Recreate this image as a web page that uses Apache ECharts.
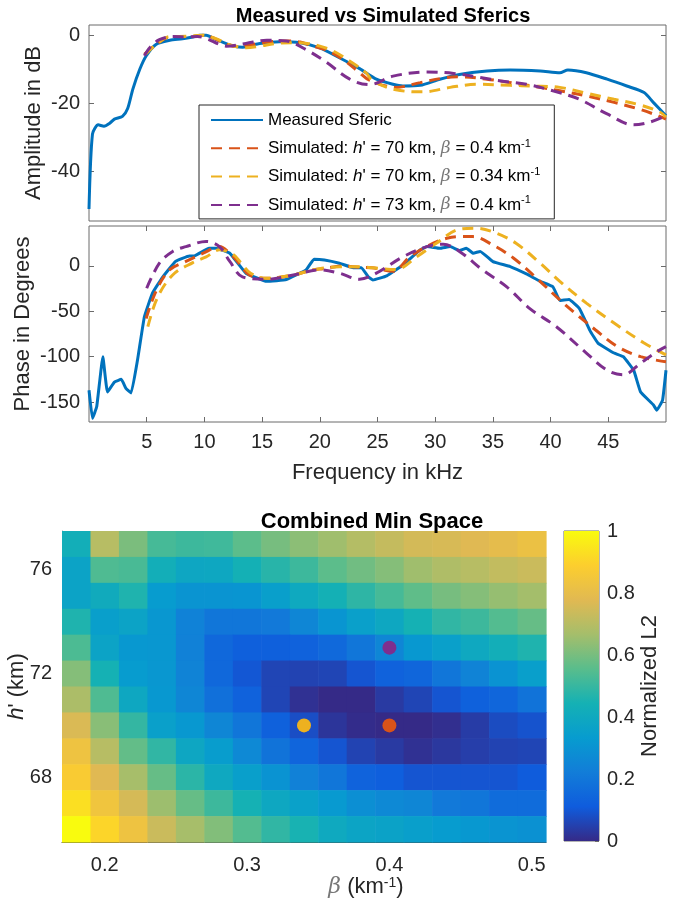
<!DOCTYPE html>
<html><head><meta charset="utf-8">
<script src="https://cdn.jsdelivr.net/npm/echarts@6/dist/echarts.min.js"></script>
<style>html,body{margin:0;padding:0;background:#fff}#c{width:683px;height:909px}</style>
</head><body><div id="c"></div><script>
// ---------------- data ----------------
const ampTicks = [0, -20, -40];
const phaseTicks = [0, -50, -100, -150];
const freqTicks = [5, 10, 15, 20, 25, 30, 35, 40, 45];
const betaTicks = [0.2, 0.3, 0.4, 0.5];
const hTicks = [68, 72, 76];
const cbarTicks = [0, 0.2, 0.4, 0.6, 0.8, 1];

const measuredAmp = [[0,-51],[0.3,-29],[0.8,-26.3],[1.3,-26.7],[1.8,-25.8],[2.2,-24.6],[2.9,-23.8],[3.35,-21.5],[3.8,-15.8],[4.4,-10],[4.95,-6.1],[5.8,-2.7],[7.0,-1.5],[8.1,-1.05],[9.0,-0.5],[9.6,0],[10.15,0],[11.0,-1.25],[12.0,-2.6],[12.8,-3.4],[13.3,-3.5],[14.0,-3.0],[14.8,-2.4],[16.5,-1.9],[18.3,-2.2],[20.0,-3.7],[21.7,-6.6],[23.45,-9.8],[24.9,-12.9],[26.35,-14.4],[27.2,-14.9],[28.7,-14.7],[30.4,-12.9],[32.1,-11.5],[34.5,-10.5],[36.5,-10.2],[39.1,-10.5],[40.8,-11],[41.5,-10.2],[43.1,-11],[44.9,-12.9],[46.6,-14.9],[48.1,-16.8],[48.9,-19.7],[50,-23.6]];
const sim1Amp = [[4.8,-5.6],[5.8,-2.7],[7.0,-0.5],[7.8,-0.4],[9.0,-0.4],[10.0,0],[10.9,-1],[11.9,-2.7],[13.0,-3.3],[14.2,-2.7],[15.4,-2],[17.1,-1.7],[18.3,-2],[19.4,-3.2],[20.6,-4.4],[22.0,-7.1],[23.45,-11],[24.3,-13.2],[26.6,-15.3],[28.7,-13.9],[31,-12.4],[32.1,-12.2],[34.5,-12.9],[36.5,-13.9],[39.1,-15.3],[40.8,-16.3],[43.1,-17.8],[45.5,-19.7],[47.5,-21.5],[48.9,-23.1],[50,-24.6]];
const sim2Amp = [[4.9,-5.6],[5.8,-2.8],[7,-0.4],[8.5,-0.3],[9.8,0],[11,-1],[12.1,-2.7],[13.6,-3.7],[14.8,-3.2],[16.2,-2.4],[17.7,-2.2],[18.9,-2.4],[20.0,-3.2],[21.2,-4.7],[22.6,-7.6],[24,-11],[24.6,-13.4],[26.6,-16],[29,-16.6],[31.3,-15.3],[33.6,-14.4],[36.5,-14.7],[38.5,-14.9],[40.8,-15.3],[43.1,-17],[45.5,-18.8],[47.8,-20.5],[49.5,-22.6],[50,-24]];
const sim3Amp = [[4.8,-6],[5.3,-3.5],[6.1,-1.3],[7.3,-0.4],[8.5,-0.5],[9.4,-0.4],[10.2,-1],[11.3,-2.7],[11.9,-3.2],[13.6,-2.4],[15.4,-1.5],[17.1,-1.7],[18.8,-4.2],[20.6,-8],[22.6,-12.9],[24.3,-14.5],[26.35,-12],[29.3,-10.8],[31.6,-11.2],[33.9,-12.4],[35.7,-13.4],[37.9,-14.4],[40.2,-16.3],[42.5,-18.8],[44.9,-23.1],[47.2,-26.3],[48.6,-25.5],[50,-23.6]];

const measuredPhase = [[0,-137],[0.3,-168],[0.67,-155],[1.2,-100],[1.6,-139],[2.2,-128],[2.8,-125],[3.2,-135],[3.65,-140],[4.2,-104],[4.8,-56],[5.5,-30],[6.4,-12],[7.5,5],[8.7,11],[9.1,11],[10.4,19.5],[11.0,19.5],[12.2,14],[13.6,-8],[15.4,-17],[17.1,-15],[18.8,-4.4],[19.5,7.4],[20.4,6.6],[21.7,3],[22.9,-2],[23.6,-2],[24.2,-12],[24.6,-15.5],[25.8,-11],[27.2,1],[28.7,17.7],[29.3,21.3],[30.4,19.5],[31.3,21.3],[32.1,17],[32.7,19.5],[33.3,14],[33.9,16],[35.0,4.8],[36.5,-0.7],[37.9,-8.8],[39.1,-17],[40.2,-23],[40.8,-38],[41.6,-37],[42.5,-47],[43.4,-71],[44.1,-85],[45.5,-96],[46.3,-100],[47.2,-115],[47.8,-139],[48.9,-153],[49.2,-159],[49.7,-148],[50,-115]];
const sim1Phase = [[4.95,-58],[5.8,-28],[6.97,-4.4],[8.4,5],[9.9,14],[11.3,21.3],[12.2,14],[13.0,3],[13.9,-10],[15.4,-13.6],[17.7,-10],[19.4,-4.4],[20.3,-3],[22,0],[23.45,-1.5],[24.5,-2],[26.35,-6],[27.8,10],[29.8,25],[31,30.5],[32.1,32.3],[33.3,32.3],[35.0,23],[36.8,8.5],[38.8,-13.6],[40.8,-37.5],[42.5,-56],[43.9,-70.6],[45.8,-89],[47.8,-100],[50,-105.6]];
const sim2Phase = [[5.1,-67],[5.9,-35.7],[7.25,-10],[9,3.7],[10.15,10],[11.3,17.7],[12.5,12.5],[13.2,3],[14,-8],[15.4,-13.6],[17.7,-10],[19.4,-4.4],[21.7,-1],[23.45,-1],[24.6,-2],[26.6,-4],[28.4,10],[30.1,25],[32.1,40.5],[33.6,41.6],[35.3,36],[37,25],[39.1,3],[40.8,-17],[43.1,-41],[45.5,-63],[48.1,-85],[50,-98]];
const sim3Phase = [[5.0,-24.6],[6.1,3],[7.25,16],[8.4,21.3],[10.15,27],[11.3,21.3],[12.2,5],[13.3,-12],[15.4,-14.7],[17.7,-10],[20,-4.4],[21.7,-8],[23.45,-14.7],[24.9,-8],[27.2,10],[29.3,21.3],[30.7,24],[32.1,16],[34.1,-4.4],[36.2,-23],[38.2,-47],[40.5,-67],[43.1,-96],[44.9,-115],[46.3,-120],[47.8,-107],[49.2,-94.6],[50,-89]];

// Combined min space (normalized L2); rows from h' = 77 (top) down to 66
const betaValues = [0.18,0.20,0.22,0.24,0.26,0.28,0.30,0.32,0.34,0.36,0.38,0.40,0.42,0.44,0.46,0.48,0.50];
const hValues = [77,76,75,74,73,72,71,70,69,68,67,66];
const l2h77 = [0.43,0.70,0.605,0.525,0.51,0.515,0.56,0.60,0.63,0.66,0.695,0.725,0.752,0.76,0.775,0.795,0.82];
const l2h76 = [0.37,0.54,0.53,0.43,0.385,0.39,0.44,0.475,0.51,0.56,0.59,0.62,0.66,0.685,0.70,0.72,0.735];
const l2h75 = [0.37,0.41,0.46,0.335,0.305,0.305,0.31,0.35,0.40,0.44,0.485,0.525,0.565,0.60,0.62,0.645,0.665];
const l2h74 = [0.46,0.35,0.37,0.315,0.24,0.20,0.20,0.21,0.254,0.31,0.355,0.39,0.445,0.49,0.51,0.545,0.575];
const l2h73 = [0.535,0.37,0.32,0.315,0.235,0.15,0.125,0.125,0.13,0.155,0.20,0.254,0.32,0.355,0.395,0.43,0.46];
const l2h72 = [0.62,0.445,0.335,0.317,0.245,0.15,0.10,0.06,0.055,0.06,0.095,0.13,0.145,0.20,0.245,0.30,0.35];
const l2h71 = [0.68,0.54,0.39,0.32,0.254,0.18,0.13,0.06,0.015,0.0,0.0,0.035,0.06,0.095,0.127,0.145,0.19];
const l2h70 = [0.765,0.625,0.495,0.355,0.32,0.254,0.20,0.127,0.08,0.025,0.005,0.0,0.0,0.01,0.04,0.075,0.09];
const l2h69 = [0.83,0.70,0.57,0.49,0.385,0.34,0.265,0.19,0.14,0.095,0.055,0.035,0.015,0.03,0.045,0.055,0.06];
const l2h68 = [0.875,0.775,0.67,0.575,0.48,0.395,0.35,0.30,0.235,0.20,0.135,0.12,0.095,0.095,0.095,0.095,0.11];
const l2h67 = [0.93,0.84,0.755,0.655,0.575,0.51,0.445,0.39,0.36,0.325,0.285,0.265,0.254,0.21,0.20,0.165,0.165];
const l2h66 = [1.0,0.905,0.83,0.735,0.67,0.615,0.545,0.49,0.45,0.40,0.375,0.365,0.35,0.335,0.32,0.305,0.295];
const l2Rows = [l2h77,l2h76,l2h75,l2h74,l2h73,l2h72,l2h71,l2h70,l2h69,l2h68,l2h67,l2h66];

// best-fit markers [beta, h']
const fitPoints = [[0.40,73],[0.34,70],[0.40,70]];
const cbarRange = [[0,1]];

// ---------------- style ----------------
const FONT = '"Liberation Sans", Arial, Helvetica, sans-serif';
const TXT = '#262626';
const AX = '#6b6b6b';
const C_BLUE = '#0072BD', C_ORANGE = '#D95319', C_YELLOW = '#EDB120', C_PURPLE = '#7E2F8E';
const pointColors = [C_PURPLE, C_YELLOW, C_ORANGE];
const parula = ['#352a87','#0f5cdd','#127dd8','#079ccf','#15b1b4','#59bd8c','#a5be6b','#e1b952','#fcce2e','#f9fb0e'];

const heatData = [];
hValues.forEach((h, r) => betaValues.forEach((b, c) => heatData.push([b, h, l2Rows[r][c]])));

const legendLabels = {
  'Measured Sferic': 'Measured Sferic',
  'sim1': "Simulated: {i|h}' = 70 km, {b|β} = 0.4 km{s|-1}",
  'sim2': "Simulated: {i|h}' = 70 km, {b|β} = 0.34 km{s|-1}",
  'sim3': "Simulated: {i|h}' = 73 km, {b|β} = 0.4 km{s|-1}"
};

const tickLbl = {fontSize: 20, color: TXT, fontFamily: FONT};
const nameSt = {fontSize: 22, color: TXT, fontFamily: FONT};
const dash = [11, 7];
const noLine = {show: false, onZero: false};

function lineSeries(name, data, color, xi, yi, dashed, smooth) {
  return {
    type: 'line', name, data, xAxisIndex: xi, yAxisIndex: yi, symbol: 'none', showSymbol: false,
    smooth: smooth, animation: false,
    lineStyle: {color, width: 3, type: dashed ? dash : 'solid'},
    itemStyle: {color}
  };
}
const gridBase = {outerBoundsMode: 'none', containLabel: false};

const chart = echarts.init(document.getElementById('c'), null, {renderer: 'canvas'});
const option = {
  backgroundColor: '#fff',
  animation: false,
  title: [
    {text: 'Measured vs Simulated Sferics', left: 378, top: 1, textAlign: 'center',
     textStyle: {fontSize: 20, fontWeight: 'bold', color: '#000', fontFamily: FONT}},
    {text: 'Combined Min Space', left: 367, top: 506, textAlign: 'center',
     textStyle: {fontSize: 22, fontWeight: 'bold', color: '#000', fontFamily: FONT}}
  ],
  grid: [
    {...gridBase, left: 89, top: 25, width: 577, height: 196, show: true, borderColor: AX, borderWidth: 1, backgroundColor: 'transparent'},
    {...gridBase, left: 89, top: 226, width: 577, height: 196, show: true, borderColor: AX, borderWidth: 1, backgroundColor: 'transparent'},
    {...gridBase, left: 62, top: 531, width: 484, height: 311},
    {...gridBase, left: 564, top: 531, width: 35, height: 310, show: true, borderColor: AX, borderWidth: 1, backgroundColor: 'transparent'}
  ],
  legend: {
    show: true, selectedMode: false, orient: 'vertical', left: 199, top: 105,
    padding: [5, 14, 4, 11], itemGap: 8.3, itemWidth: 52, itemHeight: 14,
    backgroundColor: '#fff', borderColor: '#262626', borderWidth: 1,
    itemStyle: {opacity: 0},
    data: ['Measured Sferic', 'sim1', 'sim2', 'sim3'],
    formatter: n => legendLabels[n],
    textStyle: {fontSize: 17, color: '#000', fontFamily: FONT, lineHeight: 20,
      rich: {
        i: {fontSize: 17, fontStyle: 'italic', fontFamily: FONT, color: '#000', lineHeight: 20},
        b: {fontSize: 17, fontStyle: 'italic', fontFamily: '"DejaVu Serif", serif', color: '#777', lineHeight: 20},
        s: {fontSize: 11, fontFamily: FONT, color: '#000', verticalAlign: 'top', lineHeight: 12}
      }}
  },
  visualMap: {
    show: false, type: 'continuous', min: 0, max: 1, dimension: 2, seriesIndex: [8],
    inRange: {color: parula}
  },
  xAxis: [
    {gridIndex: 0, type: 'value', min: 0, max: 50, axisLine: noLine, axisTick: {show: false}, axisLabel: {show: false}, splitLine: {show: false}},
    {gridIndex: 1, type: 'value', min: 0, max: 50, position: 'bottom',
     axisLine: noLine, splitLine: {show: false},
     axisTick: {show: true, inside: true, length: 5, lineStyle: {color: AX}, customValues: freqTicks},
     axisLabel: {show: true, margin: 10, ...tickLbl, customValues: freqTicks},
     name: 'Frequency in kHz', nameLocation: 'middle', nameGap: 40, nameMoveOverlap: false, nameTextStyle: nameSt},
    {gridIndex: 1, type: 'value', min: 0, max: 50, position: 'top',
     axisLine: noLine, splitLine: {show: false}, axisLabel: {show: false},
     axisTick: {show: true, inside: true, length: 5, lineStyle: {color: AX}, customValues: freqTicks}},
    {gridIndex: 2, type: 'value', min: 0.17, max: 0.51, position: 'bottom',
     axisLine: {show: true, onZero: false, lineStyle: {color: '#444', width: 1}}, splitLine: {show: false}, axisTick: {show: false},
     axisLabel: {show: true, margin: 13, ...tickLbl, customValues: betaTicks, formatter: v => v.toFixed(1)},
     name: '{b|β} (km{s|-1})', nameLocation: 'middle', nameGap: 34, nameMoveOverlap: false,
     nameTextStyle: {...nameSt, padding: [0, 0, 0, 124], rich: {
       b: {fontSize: 22, fontStyle: 'italic', fontFamily: '"DejaVu Serif", serif', color: '#777'},
       s: {fontSize: 14, color: TXT, fontFamily: FONT, verticalAlign: 'top', lineHeight: 14}}}},
    {gridIndex: 3, type: 'value', min: 0, max: 1, show: false}
  ],
  yAxis: [
    {gridIndex: 0, type: 'value', min: -54.5, max: 3, axisLine: noLine, splitLine: {show: false},
     axisTick: {show: true, inside: true, length: 5, lineStyle: {color: AX}, customValues: ampTicks},
     axisLabel: {show: true, margin: 9, ...tickLbl, customValues: ampTicks},
     name: 'Amplitude in dB', nameLocation: 'middle', nameGap: 44, nameMoveOverlap: false, nameTextStyle: nameSt},
    {gridIndex: 0, type: 'value', min: -54.5, max: 3, position: 'right', axisLine: noLine, splitLine: {show: false},
     axisLabel: {show: false}, axisTick: {show: true, inside: true, length: 5, lineStyle: {color: AX}, customValues: ampTicks}},
    {gridIndex: 1, type: 'value', min: -172, max: 44, axisLine: noLine, splitLine: {show: false},
     axisTick: {show: true, inside: true, length: 5, lineStyle: {color: AX}, customValues: phaseTicks},
     axisLabel: {show: true, margin: 9, ...tickLbl, customValues: phaseTicks},
     name: 'Phase in Degrees', nameLocation: 'middle', nameGap: 55, nameMoveOverlap: false, nameTextStyle: nameSt},
    {gridIndex: 1, type: 'value', min: -172, max: 44, position: 'right', axisLine: noLine, splitLine: {show: false},
     axisLabel: {show: false}, axisTick: {show: true, inside: true, length: 5, lineStyle: {color: AX}, customValues: phaseTicks}},
    {gridIndex: 2, type: 'value', min: 65.5, max: 77.5, axisLine: {show: true, onZero: false, lineStyle: {color: '#999', width: 1}}, splitLine: {show: false},
     axisTick: {show: false}, axisLabel: {show: true, margin: 10, ...tickLbl, customValues: hTicks},
     name: "{i|h}' (km)", nameLocation: 'middle', nameGap: 34, nameMoveOverlap: false,
     nameTextStyle: {...nameSt, rich: {i: {fontSize: 22, fontStyle: 'italic', color: TXT, fontFamily: FONT}}}},
    {gridIndex: 3, type: 'value', min: 0, max: 1, position: 'right', axisLine: noLine, splitLine: {show: false},
     axisTick: {show: true, inside: true, length: 4, lineStyle: {color: AX}, customValues: cbarTicks},
     axisLabel: {show: true, margin: 8, ...tickLbl, customValues: cbarTicks},
     name: 'Normalized L2', nameLocation: 'middle', nameGap: 40, nameMoveOverlap: false, nameTextStyle: nameSt}
  ],
  series: [
    lineSeries('Measured Sferic', measuredAmp, C_BLUE, 0, 0, false, 0.25),
    lineSeries('sim1', sim1Amp, C_ORANGE, 0, 0, true, 0.35),
    lineSeries('sim2', sim2Amp, C_YELLOW, 0, 0, true, 0.35),
    lineSeries('sim3', sim3Amp, C_PURPLE, 0, 0, true, 0.35),
    lineSeries('Measured Sferic', measuredPhase, C_BLUE, 1, 2, false, 0.1),
    lineSeries('sim1', sim1Phase, C_ORANGE, 1, 2, true, 0.35),
    lineSeries('sim2', sim2Phase, C_YELLOW, 1, 2, true, 0.35),
    lineSeries('sim3', sim3Phase, C_PURPLE, 1, 2, true, 0.35),
    {
      type: 'custom', name: 'l2', xAxisIndex: 3, yAxisIndex: 4, data: heatData, animation: false,
      encode: {x: 0, y: 1},
      renderItem: (params, api) => {
        const p1 = api.coord([api.value(0) - 0.01, api.value(1) + 0.5]);
        const p2 = api.coord([api.value(0) + 0.01, api.value(1) - 0.5]);
        return {type: 'rect', shape: {x: p1[0], y: p1[1], width: p2[0] - p1[0] + 0.6, height: p2[1] - p1[1] + 0.6},
                style: {fill: api.visual('color')}};
      }
    },
    {
      type: 'scatter', name: 'fits', xAxisIndex: 3, yAxisIndex: 4, data: fitPoints, symbolSize: 14, z: 5,
      itemStyle: {color: p => pointColors[p.dataIndex], opacity: 1}
    },
    {
      type: 'custom', name: 'cbar', xAxisIndex: 4, yAxisIndex: 5, data: cbarRange, animation: false,
      renderItem: (params, api) => {
        const lo = api.coord([0, api.value(0)]);
        const hi = api.coord([1, api.value(1)]);
        const stops = parula.map((c, i) => ({offset: i / (parula.length - 1), color: c}));
        return {type: 'rect', shape: {x: lo[0], y: hi[1], width: hi[0] - lo[0], height: lo[1] - hi[1]},
                style: {fill: new echarts.graphic.LinearGradient(0, 1, 0, 0, stops)}};
      }
    }
  ]
};
chart.setOption(option);
</script></body></html>
